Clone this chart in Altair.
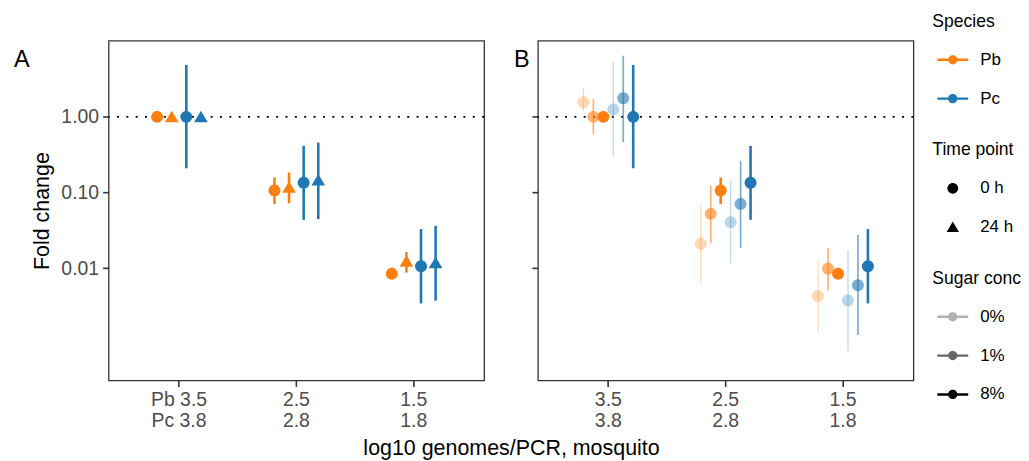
import altair as alt
import pandas as pd

# ---------------- data ----------------
LEVELS_A = ["Pb 3.5|Pc 3.8", "2.5|2.8", "1.5|1.8"]
LEVELS_B = ["3.5|3.8", "2.5|2.8", "1.5|1.8"]

# Panel A: species x time point, 8% sugar
A_LEVEL_IDX = [0, 0, 0, 0, 1, 1, 1, 1, 2, 2, 2, 2]
A_SPECIES = ["Pb", "Pb", "Pc", "Pc"] * 3
A_TIME = ["0 h", "24 h", "0 h", "24 h"] * 3
A_FOLD = [1.0, 1.0, 1.0, 1.0,
          0.106, 0.117, 0.1345, 0.146,
          0.0084, 0.0123, 0.0106, 0.0117]
A_LO = [1.0, 1.0, 0.209, 1.0,
        0.070, 0.072, 0.0435, 0.0444,
        0.0084, 0.0087, 0.0034, 0.0037]
A_HI = [1.0, 1.0, 4.86, 1.0,
        0.158, 0.184, 0.413, 0.457,
        0.0084, 0.0163, 0.0328, 0.0362]

# Panel B: species x sugar concentration, 0 h
B_LEVEL_IDX = [0] * 6 + [1] * 6 + [2] * 6
B_SPECIES = (["Pb"] * 3 + ["Pc"] * 3) * 3
B_SUGAR = ["0%", "1%", "8%"] * 6
B_FOLD = [1.566, 1.0, 1.0, 1.255, 1.77, 1.0,
          0.021, 0.0521, 0.106, 0.0405, 0.0706, 0.1345,
          0.00426, 0.00976, 0.0084, 0.00373, 0.00594, 0.0106]
B_LO = [1.2, 0.583, 1.0, 0.296, 0.466, 0.209,
        0.00625, 0.0214, 0.070, 0.0117, 0.01845, 0.0435,
        0.0014, 0.0051, 0.0084, 0.00079, 0.0013, 0.0034]
B_HI = [2.39, 1.73, 1.0, 5.26, 6.44, 4.86,
        0.070, 0.123, 0.158, 0.143, 0.262, 0.413,
        0.01267, 0.01845, 0.0084, 0.01714, 0.0276, 0.0328]

SPECIES = ["Pb", "Pc"]
SPECIES_COLORS = ["#FF7F0E", "#1F77B4"]
TIMES = ["0 h", "24 h"]
SUGARS = ["0%", "1%", "8%"]
KEYS_A = ["Pb 0 h", "Pb 24 h", "Pc 0 h", "Pc 24 h"]
KEYS_B = ["Pb 0%", "Pb 1%", "Pb 8%", "Pc 0%", "Pc 1%", "Pc 8%"]
Y_TICKS = [0.01, 0.1, 1.0]

dfA = pd.DataFrame({
    "level": [LEVELS_A[i] for i in A_LEVEL_IDX],
    "species": A_SPECIES, "time": A_TIME,
    "fold": A_FOLD, "lo": A_LO, "hi": A_HI,
})
dfA["key"] = dfA["species"] + " " + dfA["time"]

dfB = pd.DataFrame({
    "level": [LEVELS_B[i] for i in B_LEVEL_IDX],
    "species": B_SPECIES, "sugar": B_SUGAR,
    "fold": B_FOLD, "lo": B_LO, "hi": B_HI,
})
dfB["key"] = dfB["species"] + " " + dfB["sugar"]

# ---------------- styling ----------------
FONT = "Liberation Sans"
W, H = 377, 341
CIRCLE = "M0.35,0A0.35,0.35,0,1,1,-0.35,0A0.35,0.35,0,1,1,0.35,0Z"
TRI = "M0,-0.36L0.4,0.32L-0.4,0.32Z"
LINE_DOT = ("M-1,-0.08L1,-0.08L1,0.08L-1,0.08Z"
            "M0.3,0A0.3,0.3,0,1,1,-0.3,0A0.3,0.3,0,1,1,0.3,0Z")

Y_SCALE = alt.Scale(type="log", domain=[3.26e-4, 10.16], nice=False)
COLOR_SCALE = alt.Scale(domain=SPECIES, range=SPECIES_COLORS)
SHAPE_SCALE = alt.Scale(domain=TIMES, range=[CIRCLE, TRI])
OPACITY_SCALE = alt.Scale(type="ordinal", domain=SUGARS, range=[0.3, 0.6, 1.0])
# data-driven domain (sorted 0%, 1%, 8%) so it is not merged with the opacity legend
WIDTH_SCALE = alt.Scale(type="ordinal", range=[1.2, 1.7, 2.6])

LEG_X = 827


def legend(title, y, symbol=None, **extra):
    kw = dict(title=title, orient="none", legendX=LEG_X, legendY=y,
              symbolSize=961, symbolStrokeWidth=0, symbolOffset=5,
              labelOffset=12, rowPadding=15, titlePadding=14)
    if symbol:
        kw["symbolType"] = symbol
    kw.update(extra)
    return alt.Legend(**kw)


def y_enc(field, labels, title):
    return alt.Y(f"{field}:Q", scale=Y_SCALE,
                 axis=alt.Axis(values=Y_TICKS, format=".2f", labels=labels,
                               title=title, labelPadding=4, titlePadding=7))


def x_enc(levels, title):
    kw = dict(labelExpr="split(datum.label, '|')", labelAngle=0,
              labelLineHeight=21, labelPadding=4, title=title)
    if title:
        kw.update(titleX=404, titlePadding=8)
    return alt.X("level:N", sort=levels,
                 scale=alt.Scale(domain=levels, paddingInner=0, paddingOuter=0.1),
                 axis=alt.Axis(**kw))


def hline():
    return alt.Chart(pd.DataFrame({"ref": [1.0]})).mark_rule(
        color="black", strokeWidth=2, strokeDash=[2, 7.4]
    ).encode(y=alt.Y("ref:Q", scale=Y_SCALE))


def panel_label(text, dx, dy):
    return alt.Chart(pd.DataFrame({"t": [text]})).mark_text(
        fontSize=23.5, align="left", baseline="alphabetic", color="black", font=FONT
    ).encode(text="t:N", x=alt.value(dx), y=alt.value(dy))


COLOR_LEGEND = legend("Species", -28, LINE_DOT)

# ---------------- panel A ----------------
xoffA = alt.XOffset("key:N", scale=alt.Scale(type="point", domain=KEYS_A,
                                             range=[36.9, 80.9], padding=0))
baseA = alt.Chart(dfA)
rulesA = baseA.mark_rule(strokeWidth=2.6).encode(
    x=x_enc(LEVELS_A, "log10 genomes/PCR, mosquito"),
    xOffset=xoffA,
    y=y_enc("lo", True, "Fold change"),
    y2="hi:Q",
    color=alt.Color("species:N", scale=COLOR_SCALE, legend=COLOR_LEGEND),
)
pointsA = baseA.mark_point(filled=True, opacity=1, size=1176, strokeWidth=0).encode(
    x=x_enc(LEVELS_A, "log10 genomes/PCR, mosquito"),
    xOffset=xoffA,
    y=y_enc("fold", True, "Fold change"),
    color=alt.Color("species:N", scale=COLOR_SCALE, legend=COLOR_LEGEND),
    shape=alt.Shape("time:N", scale=SHAPE_SCALE, legend=legend("Time point", 101)),
)
panelA = alt.layer(hline(), rulesA, pointsA, panel_label("A", -95, 26)).properties(
    width=W, height=H)

# ---------------- panel B ----------------
xoffB = alt.XOffset("key:N", scale=alt.Scale(type="point", domain=KEYS_B,
                                             range=[33.9, 83.9], padding=0))
SUGAR_LEGEND = legend("Sugar conc", 230, LINE_DOT, symbolFillColor="black")
baseB = alt.Chart(dfB)
rulesB = baseB.transform_calculate(sugar_w="datum.sugar").mark_rule().encode(
    x=x_enc(LEVELS_B, None),
    xOffset=xoffB,
    y=y_enc("lo", False, None),
    y2="hi:Q",
    color=alt.Color("species:N", scale=COLOR_SCALE, legend=COLOR_LEGEND),
    opacity=alt.Opacity("sugar:N", scale=OPACITY_SCALE, legend=SUGAR_LEGEND),
    strokeWidth=alt.StrokeWidth("sugar_w:N", scale=WIDTH_SCALE, legend=None),
)
pointsB = baseB.mark_point(filled=True, size=1176, strokeWidth=0, shape=CIRCLE).encode(
    x=x_enc(LEVELS_B, None),
    xOffset=xoffB,
    y=y_enc("fold", False, None),
    color=alt.Color("species:N", scale=COLOR_SCALE, legend=COLOR_LEGEND),
    opacity=alt.Opacity("sugar:N", scale=OPACITY_SCALE, legend=SUGAR_LEGEND),
)
panelB = alt.layer(hline(), rulesB, pointsB, panel_label("B", -24, 26)).properties(
    width=W, height=H)

chart = alt.hconcat(panelA, panelB, spacing=54, bounds="flush").resolve_scale(
    x="independent", xOffset="independent", y="independent",
    color="shared", shape="shared", opacity="shared"
).properties(
    padding={"left": 5, "top": 4, "right": 0, "bottom": 0}
).configure(
    font=FONT
).configure_view(
    stroke="#333333", strokeWidth=1.3
).configure_axis(
    domain=False, grid=False, tickColor="#333333", tickWidth=1.6, tickSize=6,
    labelFont=FONT, labelFontSize=19.5, labelColor="#4D4D4D",
    titleFont=FONT, titleFontSize=21.5, titleFontWeight="normal", titleColor="black"
).configure_legend(
    titleFont=FONT, titleFontSize=17.6, titleFontWeight="normal", titleColor="black",
    labelFont=FONT, labelFontSize=17, labelColor="black"
)

chart.save("out.html", embed_options={"renderer": "svg", "actions": False})
